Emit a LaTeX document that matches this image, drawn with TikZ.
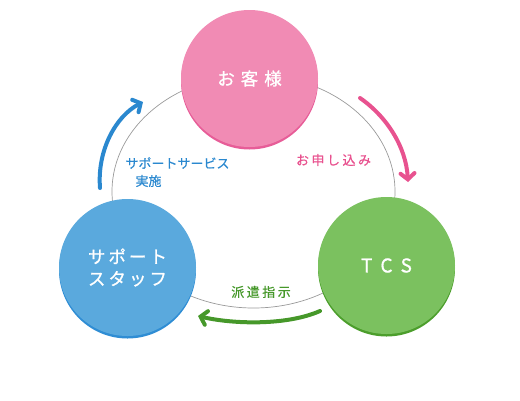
\documentclass[tikz,border=0pt]{standalone}
\usepackage{fontspec}
\setmainfont{Noto Sans CJK JP}
\newfontfamily\jpm[FakeBold=0.9]{Noto Sans CJK JP}
\newfontfamily\jps[FakeBold=0.5]{Noto Sans CJK JP}
\usetikzlibrary{arrows.meta}
\definecolor{pinkF}{HTML}{F18BB4}
\definecolor{pinkR}{HTML}{E75D98}
\definecolor{pinkA}{HTML}{E8528F}
\definecolor{blueF}{HTML}{5AA9DD}
\definecolor{blueR}{HTML}{2F8DD4}
\definecolor{blueA}{HTML}{2A88CF}
\definecolor{greenF}{HTML}{7BC15F}
\definecolor{greenR}{HTML}{4C9E2C}
\definecolor{greenA}{HTML}{46982A}
\definecolor{ringc}{HTML}{9A9A9A}
\tikzset{
  bubble/.style={circle, minimum size=137pt, inner sep=0pt, text=white, align=center,
                 font=\jpm\fontsize{17.5}{22}\selectfont},
  flow/.style={line width=4pt, line cap=round,
               -{Straight Barb[length=6pt,width=14pt,line cap=round]}},
  lbl/.style={inner sep=0pt, font=\jps\fontsize{13}{16}\selectfont}
}
\begin{document}
\begin{tikzpicture}[x=1pt,y=-1pt]
\useasboundingbox (0,0) rectangle (520,400);
% ring
\draw[ringc, line width=0.7pt] (253.5,191.5) ellipse [x radius=141.5pt, y radius=116.5pt];
% circles with darker rim
\fill[pinkR] (249.5,81) circle (68.5pt);
\node[bubble, fill=pinkF] (kyaku) at (249.5,78.5) {お\hspace{6pt}客\hspace{6pt}様};
\fill[blueR] (127.5,270) circle (68.5pt);
\node[bubble, fill=blueF] (staff) at (127.5,267.5) {サ\hspace{3pt}ポ\hspace{3pt}ー\hspace{3pt}ト\\ス\hspace{3pt}タ\hspace{3pt}ッ\hspace{3pt}フ};
\fill[greenR] (386.5,268) circle (68.5pt);
\node[bubble, fill=greenF, font=\jpm\fontsize{19}{22}\selectfont] (tcs) at (386.5,265.5) {T\hspace{8pt}C\hspace{8pt}S};
% arrow end points
\coordinate (bs) at (100,188);
\coordinate (be) at (143,102);
\coordinate (ps) at (360,98);
\coordinate (pe) at (408,182);
\coordinate (gs) at (320,311);
\coordinate (ge) at (198,316);
\draw[flow, blueA] (bs) .. controls (97,150) and (116,116) .. (be);
\draw[flow, pinkA] (ps) .. controls (386,116) and (406,146) .. (pe);
\draw[flow, greenA] (gs) .. controls (286,326) and (232,324) .. (ge);
% labels
\node[lbl, text=blueA] (l1) at (177.5,163) {サポートサービス};
\node[lbl, text=blueA] (l2) at (148.5,181) {実施};
\node[lbl, text=pinkA] (l3) at (333.5,160) {お\hspace{2.5pt}申\hspace{2.5pt}し\hspace{2.5pt}込\hspace{2.5pt}み};
\node[lbl, text=greenA] (l4) at (261,292) {派\hspace{2.5pt}遣\hspace{2.5pt}指\hspace{2.5pt}示};
\end{tikzpicture}
\end{document}
